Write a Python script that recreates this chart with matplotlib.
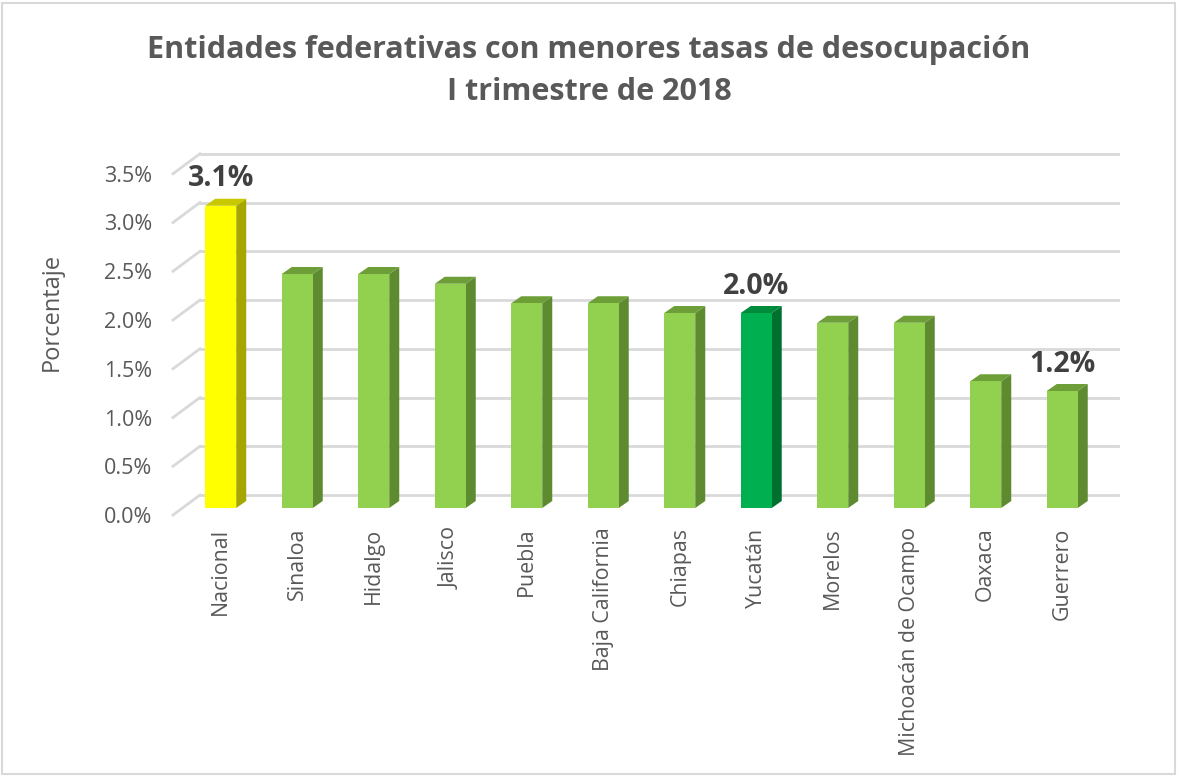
import matplotlib
matplotlib.use("Agg")
import matplotlib.pyplot as plt
from matplotlib.patches import Polygon, Rectangle
from matplotlib.transforms import ScaledTranslation
import numpy as np

categories = ["Nacional", "Sinaloa", "Hidalgo", "Jalisco", "Puebla", "Baja California",
              "Chiapas", "Yucatán", "Morelos", "Michoacán de Ocampo", "Oaxaca", "Guerrero"]
values = [3.1, 2.4, 2.4, 2.3, 2.1, 2.1, 2.0, 2.0, 1.9, 1.9, 1.3, 1.2]
labeled = {"Nacional": "3.1%", "Yucatán": "2.0%", "Guerrero": "1.2%"}
yticks = [0.0, 0.5, 1.0, 1.5, 2.0, 2.5, 3.0, 3.5]
title = "Entidades federativas con menores tasas de desocupación\nI trimestre de 2018"

FONT = "Open Sans"
TXT = "#595959"
W, H, DPI = 1178, 776, 100
fig = plt.figure(figsize=(W / DPI, H / DPI), dpi=DPI)
fig.patch.set_facecolor("white")
fig.add_artist(Rectangle((2 / W, 2 / H), 1 - 5 / W, 1 - 5 / H, transform=fig.transFigure,
                         fill=False, edgecolor="#d9d9d9", linewidth=1.5))

left_px, right_px = 182.5, 182.5 + 12 * 76.5
bot_px, top_px = 508, 508 - 3.5 * 97.5
ax = fig.add_axes([left_px / W, 1 - bot_px / H, (right_px - left_px) / W, (bot_px - top_px) / H])
ax.set_xlim(-0.5, len(categories) - 0.5)
ax.set_ylim(0, 3.5)
for s in ax.spines.values():
    s.set_visible(False)
ax.patch.set_alpha(0)

def px(dx, dy):
    return ScaledTranslation(dx / DPI, dy / DPI, fig.dpi_scale_trans)

# back wall gridlines and left-wall slants
back = ax.transData + px(17.5, 13)
for t in yticks:
    ax.plot([-0.5, len(categories) - 0.5], [t, t], color="#d9d9d9", lw=2,
            transform=back, clip_on=False, zorder=0)
    x0, y0 = ax.transData.transform((-0.5, t))
    ax.plot([x0 - 9.5, x0 + 17.5], [y0 - 7, y0 + 13], color="#d9d9d9", lw=2,
            transform=None, clip_on=False, zorder=0)

x = np.arange(len(categories))
width = 0.405
dxd = 10 / 76.5
dyd = 7 / 97.5
front_c, side_c, top_c = [], [], []
for c in categories:
    if c == "Nacional":
        front_c.append("#ffff00"); side_c.append("#a6a600"); top_c.append("#c8c800")
    elif c == "Yucatán":
        front_c.append("#00b050"); side_c.append("#00702f"); top_c.append("#008a3c")
    else:
        front_c.append("#92d050"); side_c.append("#5e8a30"); top_c.append("#6e9e38")

for xi, v, sc, tc in zip(x, values, side_c, top_c):
    r = xi + width / 2
    l = xi - width / 2
    ax.add_patch(Polygon([(r, 0), (r + dxd, dyd), (r + dxd, v + dyd), (r, v)],
                         closed=True, facecolor=sc, edgecolor="none", zorder=2, clip_on=False))
    ax.add_patch(Polygon([(l, v), (r, v), (r + dxd, v + dyd), (l + dxd, v + dyd)],
                         closed=True, facecolor=tc, edgecolor="none", zorder=2, clip_on=False))
ax.bar(x, values, width=width, color=front_c, edgecolor="none", zorder=3)

for xi, v, c in zip(x, values, categories):
    if c in labeled:
        ax.annotate(labeled[c], (xi, v), xytext=(0, 9), textcoords="offset points",
                    ha="center", va="bottom", fontsize=20.5, fontweight="bold",
                    color="#404040", family=FONT, annotation_clip=False)

ax.set_xticks(x)
ax.set_xticklabels(categories, rotation=90, fontsize=15.4, color=TXT, family=FONT, va="top")
ax.set_yticks(yticks)
ax.set_yticklabels([f"{t:.1f}%" for t in yticks], fontsize=15.5, color=TXT, family=FONT)
ax.tick_params(axis="both", length=0)
ax.tick_params(axis="y", pad=22)
ax.tick_params(axis="x", pad=14)
for lab in ax.get_yticklabels():
    lab.set_transform(lab.get_transform() + px(0, -7))
ax.set_ylabel("Porcentaje", fontsize=17, color=TXT, family=FONT)
ax.yaxis.set_label_coords(-0.129, 0.574)
ax.grid(False)

fig.text(0.5, 1 - 71 / H, title, ha="center", va="center", fontsize=22, fontweight="bold",
         color=TXT, family=FONT, linespacing=1.55)

fig.savefig("out.png", dpi=DPI)
